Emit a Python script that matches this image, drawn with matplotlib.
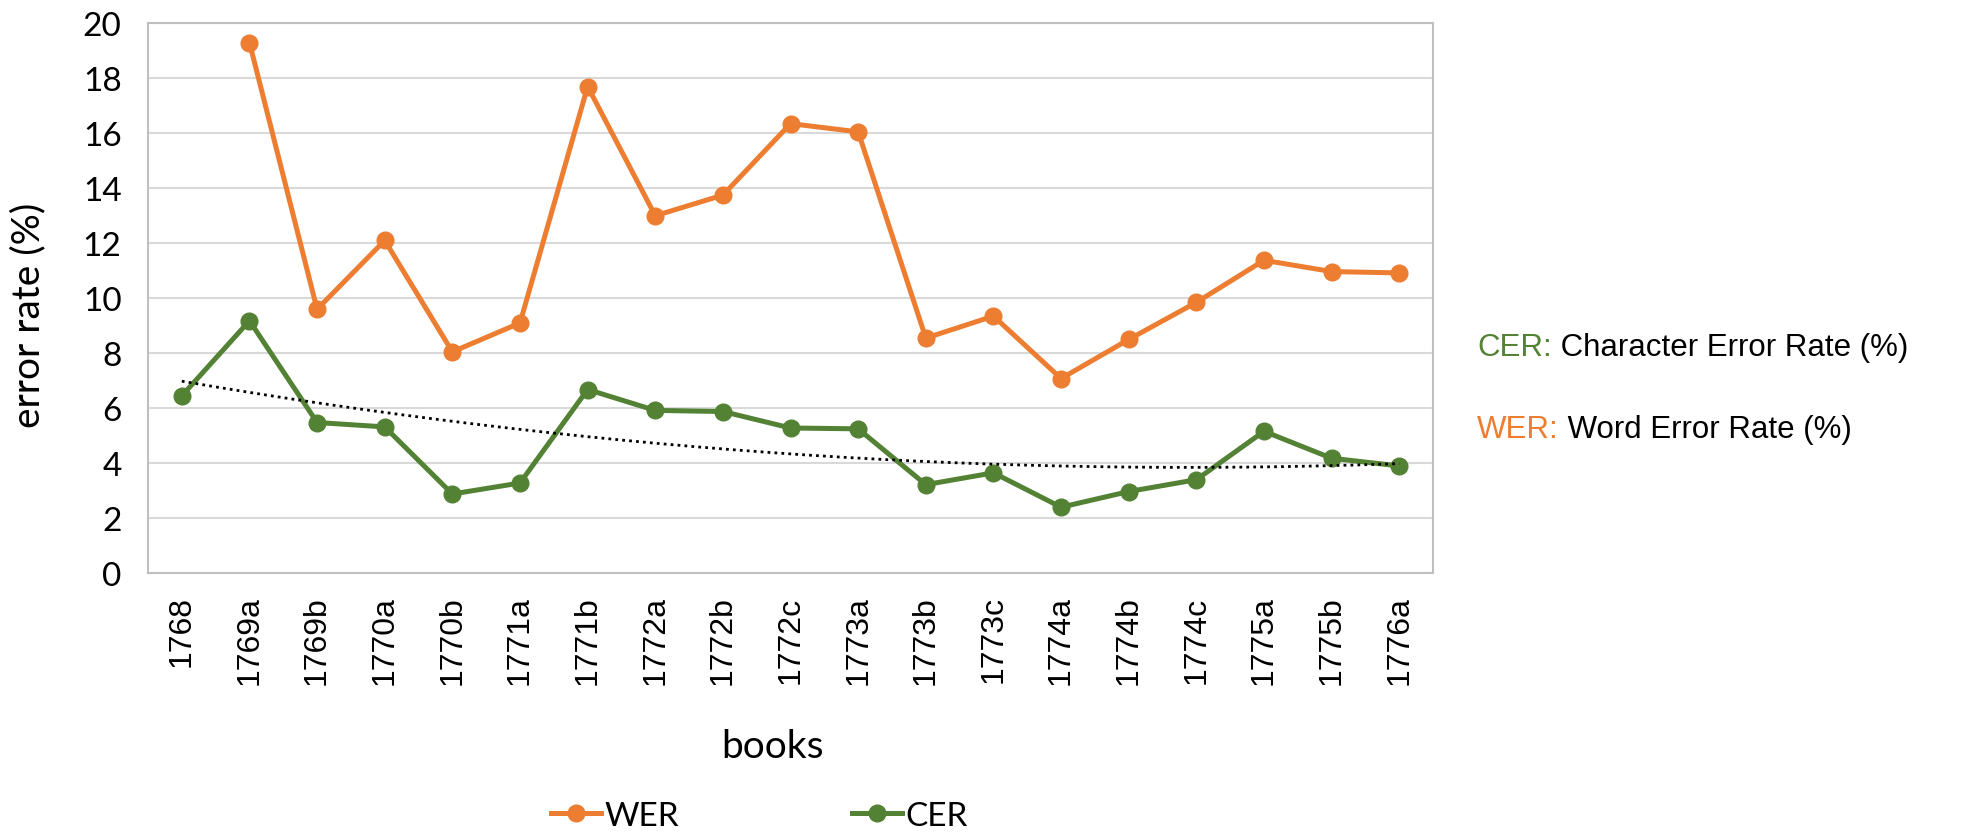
import numpy as np
import matplotlib.pyplot as plt

books = ["1768", "1769a", "1769b", "1770a", "1770b", "1771a", "1771b", "1772a",
         "1772b", "1772c", "1773a", "1773b", "1773c", "1774a", "1774b", "1774c",
         "1775a", "1775b", "1776a"]
wer = [np.nan, 19.3, 9.6, 12.1, 8.05, 9.1, 17.7, 13.0, 13.75, 16.35, 16.05,
       8.55, 9.35, 7.08, 8.5, 9.85, 11.38, 10.97, 10.92]
cer = [6.45, 9.18, 5.48, 5.32, 2.88, 3.28, 6.68, 5.92, 5.88, 5.28, 5.25,
       3.22, 3.65, 2.4, 2.97, 3.4, 5.16, 4.18, 3.9]

orange = "#ED7D31"
green = "#548235"

plt.rcParams['font.family'] = ['Lato', 'DejaVu Sans']

fig = plt.figure(figsize=(19.68, 8.37), dpi=100)
ax = fig.add_axes([0.0752, 0.314, 0.653, 0.657])

x = np.arange(len(books))
ax.plot(x, wer, color=orange, lw=3.6, marker="o", ms=12, label="WER", zorder=3)
ax.plot(x, cer, color=green, lw=3.6, marker="o", ms=12, label="CER", zorder=3)

# polynomial trendline on CER (order 2)
coef = np.polyfit(x, cer, 2)
xs = np.linspace(0, len(books) - 1, 200)
ax.plot(xs, np.polyval(coef, xs), color="black", lw=2, ls=(0, (1, 1.5)), zorder=4)

ax.set_xlim(-0.5, len(books) - 0.5)
ax.set_ylim(0, 20)
ax.set_yticks(range(0, 21, 2))
ax.set_xticks(x)
ax.set_xticklabels(books, rotation=90, fontsize=23, family="Liberation Sans")
ax.tick_params(axis="y", labelsize=24, length=0, pad=19)
ax.tick_params(axis="x", length=0, pad=16)
ax.grid(axis="y", color="#D9D9D9", lw=1.5)
ax.set_axisbelow(True)
for s in ax.spines.values():
    s.set_color("#BFBFBF")
    s.set_linewidth(1.5)

ax.set_ylabel("error rate (%)", fontsize=28)
ax.yaxis.set_label_coords(-0.079, 0.47)
ax.set_xlabel("books", fontsize=28)
ax.xaxis.set_label_coords(0.486, -0.282)

ax.legend(loc="center", bbox_to_anchor=(0.386, 0.024), bbox_transform=fig.transFigure,
          ncol=2, frameon=False, fontsize=24, columnspacing=5.2, handlelength=1.5,
          handletextpad=0.1)

t1 = fig.text(0.7505, 0.575, "CER:", color=green, fontsize=22.5, family="Liberation Sans",
              va="baseline")
ax.annotate(" Character Error Rate (%)", xy=(1, 0), xycoords=t1, va="bottom",
            fontsize=22.5, family="Liberation Sans", color="black")
t2 = fig.text(0.7505, 0.477, "WER:", color=orange, fontsize=22.5, family="Liberation Sans",
              va="baseline")
ax.annotate(" Word Error Rate (%)", xy=(1, 0), xycoords=t2, va="bottom",
            fontsize=22.5, family="Liberation Sans", color="black")

fig.savefig("out.png", dpi=100, facecolor="white")
